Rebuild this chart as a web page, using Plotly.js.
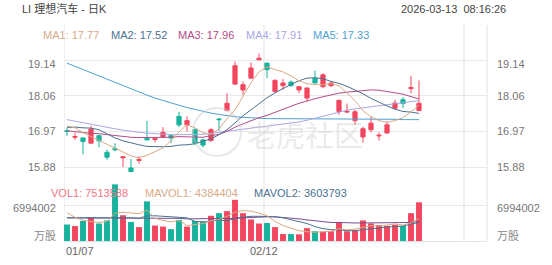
<!DOCTYPE html>
<html><head><meta charset="utf-8">
<script src="https://cdn.plot.ly/plotly-3.0.1.min.js"></script>
<style>html,body{margin:0;padding:0;background:#fff;}#chart{width:552px;height:265px;}</style>
</head><body><div id="chart"></div>
<script>
const dates = ['01/07','01/08','01/09','01/12','01/13','01/14','01/15','01/16','01/20','01/21','01/22','01/23','01/26','01/27','01/28','01/29','01/30','02/02','02/03','02/04','02/05','02/06','02/09','02/10','02/11','02/12','02/13','02/17','02/18','02/19','02/20','02/23','02/24','02/25','02/26','02/27','03/02','03/03','03/04','03/05','03/06','03/09','03/10','03/11','03/12'];
const open  = [16.99,16.79,16.77,16.61,16.84,16.33,16.44,16.16,15.85,16.08,16.76,16.72,16.80,16.84,17.43,17.17,17.02,16.71,16.69,17.35,17.61,18.42,18.24,18.60,19.16,19.06,18.19,18.37,18.48,18.24,17.99,18.60,18.34,18.37,17.58,17.56,17.30,16.80,17.02,16.83,16.92,17.68,17.94,18.28,17.61];
const high  = [17.07,16.93,16.78,17.14,16.86,16.41,16.61,16.20,16.13,16.21,17.29,16.80,17.10,16.85,17.57,17.43,17.07,16.75,17.07,17.38,18.14,19.11,18.50,19.08,19.35,19.06,18.57,18.57,18.53,18.34,18.30,18.83,18.75,18.50,17.94,17.82,17.63,17.12,17.43,16.94,17.27,17.94,18.02,18.67,18.53];
const low   = [16.83,16.71,16.27,16.60,16.48,16.10,16.36,15.88,15.73,15.98,16.70,16.63,16.80,16.61,17.10,16.97,16.56,16.48,16.66,16.99,17.58,18.39,18.09,18.60,19.15,18.60,18.16,18.24,18.34,18.14,17.89,18.45,18.30,18.33,17.48,17.53,17.17,16.63,16.94,16.69,16.90,17.63,17.68,18.14,17.58];
const close = [16.97,16.81,16.66,17.04,16.68,16.18,16.41,16.19,15.74,16.11,16.71,16.75,16.94,16.77,17.17,17.30,16.61,16.55,17.02,17.33,17.83,18.98,18.40,18.91,19.21,18.86,18.53,18.45,18.37,18.34,18.30,18.45,18.70,18.45,17.92,17.58,17.57,17.05,17.22,16.85,17.17,17.84,17.82,18.31,17.83];
const ma1 = [17.14,17.08,16.93,16.81,16.71,16.59,16.47,16.35,16.22,16.16,16.24,16.35,16.47,16.68,16.96,17.17,17.08,16.93,16.87,17.05,17.36,17.63,18.06,18.46,18.79,18.95,18.86,18.79,18.67,18.52,18.43,18.40,18.40,18.43,18.37,18.15,17.91,17.60,17.42,17.30,17.25,17.30,17.39,17.57,17.77];
const ma2 = [17.09,17.10,17.08,17.07,17.02,16.90,16.77,16.68,16.61,16.56,16.51,16.50,16.50,16.51,16.55,16.56,16.59,16.67,16.74,16.87,17.02,17.23,17.45,17.63,17.82,18.00,18.15,18.29,18.41,18.52,18.60,18.61,18.58,18.50,18.44,18.35,18.24,18.12,17.98,17.86,17.75,17.65,17.58,17.56,17.52];
const ma3 = [16.99,16.96,16.93,16.91,16.90,16.87,16.84,16.81,16.79,16.78,16.78,16.78,16.79,16.79,16.81,16.81,16.79,16.79,16.84,16.88,16.97,17.10,17.20,17.30,17.39,17.46,17.56,17.65,17.74,17.83,17.91,17.97,18.03,18.09,18.14,18.17,18.20,18.22,18.24,18.23,18.20,18.15,18.11,18.04,17.96];
const ma4 = [17.33,17.28,17.23,17.18,17.14,17.09,17.05,17.01,16.97,16.94,16.92,16.90,16.88,16.87,16.87,16.87,16.87,16.88,16.91,16.94,16.97,17.00,17.03,17.07,17.10,17.13,17.16,17.19,17.23,17.26,17.31,17.37,17.43,17.51,17.57,17.62,17.66,17.69,17.72,17.75,17.78,17.82,17.85,17.88,17.91];
const ma5 = [19.06,18.96,18.86,18.76,18.67,18.57,18.47,18.37,18.27,18.18,18.08,17.99,17.91,17.84,17.77,17.70,17.64,17.58,17.53,17.49,17.45,17.42,17.40,17.38,17.37,17.36,17.36,17.36,17.36,17.36,17.35,17.35,17.35,17.35,17.35,17.35,17.34,17.34,17.34,17.34,17.34,17.34,17.33,17.33,17.33];
const volume = [3200000,2900000,3900000,4600000,3400000,4000000,11000000,5000000,3700000,2700000,7700000,3000000,2800000,2300000,4100000,2800000,3900000,3800000,4900000,5400000,5800000,8000000,5400000,4200000,3400000,3500000,2700000,1350000,1350000,1300000,2500000,1900000,1800000,1900000,3700000,1900000,2100000,4000000,3400000,3100000,2950000,3150000,2950000,5400000,7513588];
const mavol1 = [5.5,4.6,4.0,3.8,3.6,3.8,5.4,5.6,5.4,5.3,6.0,4.4,4.0,3.7,4.0,3.0,3.2,3.4,3.9,4.2,4.8,5.6,5.9,5.8,5.4,4.9,3.8,3.0,2.5,2.0,1.8,1.7,1.8,1.9,2.4,2.2,2.3,2.7,3.0,2.9,3.1,3.3,3.1,3.5,4.384404];
const mavol2 = [4.5,4.5,4.6,4.6,4.5,4.5,4.6,4.6,4.5,4.4,4.9,4.9,4.8,4.6,4.6,4.5,3.8,3.7,3.8,4.1,3.9,4.4,4.6,4.8,4.8,4.8,4.7,4.5,4.1,3.7,3.4,2.8,2.4,2.2,2.2,2.0,2.0,2.2,2.4,2.6,2.7,2.8,2.9,3.3,3.603793];
const mavol3 = [4.5,4.5,4.4,4.4,4.4,4.4,4.5,4.5,4.5,4.4,4.5,4.5,4.5,4.4,4.4,4.3,4.3,4.3,4.3,4.3,4.3,4.4,4.5,4.6,4.7,4.7,4.7,4.6,4.5,4.3,4.1,3.9,3.7,3.6,3.6,3.5,3.5,3.5,3.5,3.5,3.5,3.5,3.5,3.6,3.8];
const maNames = ['MA1','MA2','MA3','MA4','MA5'];
const maLast = ['17.77','17.52','17.96','17.91','17.33'];
const volLegend = [['VOL1','7513588'],['MAVOL1','4384404'],['MAVOL2','3603793']];
const priceTicks = [19.14, 18.06, 16.97, 15.88];
const volTick = 6994002;
const dateTickIdx = [0, 25, 50];

const RED = '#f2465e', GREEN = '#17b39c';
const maColors = ['#d8aa88','#4b7190','#b34c88','#aaa7e4','#4fa0d2'];
const F = 'Arial, "Liberation Sans", "Noto Sans CJK SC", sans-serif';
const idx = dates.map((d,i)=>i);
const barColors = idx.map(i => close[i] >= open[i] ? RED : GREEN);

const L = 64, R = 487, T = 25, B = 241;
const px = v => (v - L) / (R - L);
const py = v => (B - v) / (B - T);

const traces = [];
[ma5, ma4, ma3, ma2, ma1].forEach((m, k) => {
  const c = maColors[4 - k];
  traces.push({type:'scatter', mode:'lines', x: idx, y: m, xaxis:'x', yaxis:'y', line:{color:c, width:1}, hoverinfo:'skip'});
});
traces.push({type:'candlestick', x: idx, open, high, low, close, xaxis:'x', yaxis:'y',
  increasing:{line:{color:RED, width:1}, fillcolor:RED},
  decreasing:{line:{color:GREEN, width:1}, fillcolor:GREEN}, whiskerwidth:0});
traces.push({type:'bar', x: idx, y: volume, xaxis:'x', yaxis:'y2', marker:{color: barColors, line:{width:0}}, width:0.74});
[[mavol3,'#7b4f8f'],[mavol2,maColors[1]],[mavol1,maColors[0]]].forEach(([m,c]) => {
  traces.push({type:'scatter', mode:'lines', x: idx, y: m.map(v=>v*1e6), xaxis:'x', yaxis:'y2', line:{color:c, width:1}});
});

const ann = [];
const txt = (x, y, text, color, anchor, extra) => ann.push(Object.assign({xref:'paper', yref:'paper', x: px(x), y: py(y), text, showarrow:false, xanchor: anchor||'left', yanchor:'middle', font:{family:F, size:11, color}}, extra||{}));
txt(20, 9, 'LI 理想汽车 - 日K', '#444');
txt(508, 9, '2026-03-13&nbsp;&nbsp;08:16:26', '#444', 'right');
const maX = [41, 109, 176, 244, 311];
maNames.forEach((n,i)=> txt(maX[i], 35, n + ': ' + maLast[i], maColors[i]));
const volX = [49, 143, 252];
const volC = ['#f27583', maColors[0], maColors[1]];
volLegend.forEach((v,i)=> txt(volX[i], 193, v[0] + ': ' + v[1], volC[i]));
priceTicks.forEach((p,i)=>{
  const ys = i === 0 ? -3.5 : 0;
  ann.push({xref:'paper', yref:'y', x: px(58), y: p, yshift: ys, text: p.toFixed(2), showarrow:false, xanchor:'right', yanchor:'middle', font:{family:F, size:11, color:'#777'}});
  ann.push({xref:'paper', yref:'y', x: px(495), y: p, yshift: ys, text: p.toFixed(2), showarrow:false, xanchor:'left', yanchor:'middle', font:{family:F, size:11, color:'#777'}});
});
ann.push({xref:'paper', yref:'y2', x: px(58), y: volTick, yshift:-3, text: String(volTick), showarrow:false, xanchor:'right', yanchor:'middle', font:{family:F, size:11, color:'#777'}});
ann.push({xref:'paper', yref:'y2', x: px(495), y: volTick, yshift:-3, text: String(volTick), showarrow:false, xanchor:'left', yanchor:'middle', font:{family:F, size:11, color:'#777'}});
txt(58, 236, '万股', '#888', 'right');
txt(495, 236, '万股', '#888', 'left');
ann.push({xref:'paper', yref:'paper', x: px(64), y: py(251), text: dates[dateTickIdx[0]], showarrow:false, xanchor:'left', yanchor:'middle', font:{family:F, size:11, color:'#666'}});
ann.push({xref:'x', yref:'paper', x: dateTickIdx[1] - 0.375, y: py(251), text: dates[dateTickIdx[1]], showarrow:false, xanchor:'center', yanchor:'middle', font:{family:F, size:11, color:'#666'}});
ann.push({xref:'paper', yref:'paper', x: px(245), y: py(134), text:'老虎社区', showarrow:false, xanchor:'left', yanchor:'middle', font:{family:'"Noto Sans CJK SC", sans-serif', size:29, color:'rgba(200,200,200,0.38)'}});

const shapes = [];
dateTickIdx.forEach(i => shapes.push({type:'line', xref:'x', yref:'paper', x0: i - 0.375, x1: i - 0.375, y0: 0, y1: 1, line:{color:'#e2e2e2', width:1}, layer:'below'}));
shapes.push({type:'line', xref:'paper', yref:'paper', x0:1, x1:1, y0:0, y1:1, line:{color:'#e2e2e2', width:1}, layer:'below'});
shapes.push({type:'circle', xref:'paper', yref:'paper', x0: px(193), x1: px(241), y0: py(156), y1: py(108), line:{color:'rgba(205,205,205,0.45)', width:2}, layer:'above'});

const layout = {
  width:552, height:265, margin:{l:L, r:552-R, t:T, b:265-B}, showlegend:false,
  paper_bgcolor:'#fff', plot_bgcolor:'#fff', boxgap:0.25, bargap:0.2,
  xaxis:{range:[-0.375, 52.5], anchor:'y2', showgrid:false, zeroline:false, showticklabels:false, ticks:'', rangeslider:{visible:false}, showline:true, linecolor:'#e2e2e2', linewidth:1, fixedrange:true},
  yaxis:{domain:[(B-175)/(B-T), 1], range:[15.6351, 20.2267], tickvals: priceTicks, showticklabels:false, gridcolor:'#e8e8e8', gridwidth:1, zeroline:false, showline:false, ticks:''},
  yaxis2:{domain:[0, (B-184)/(B-T)], range:[0, 11073837], tickvals:[volTick], showticklabels:false, gridcolor:'#e8e8e8', zeroline:false, showline:false, ticks:''},
  annotations: ann, shapes
};
Plotly.newPlot('chart', traces, layout, {staticPlot:true, displayModeBar:false});
</script></body></html>
